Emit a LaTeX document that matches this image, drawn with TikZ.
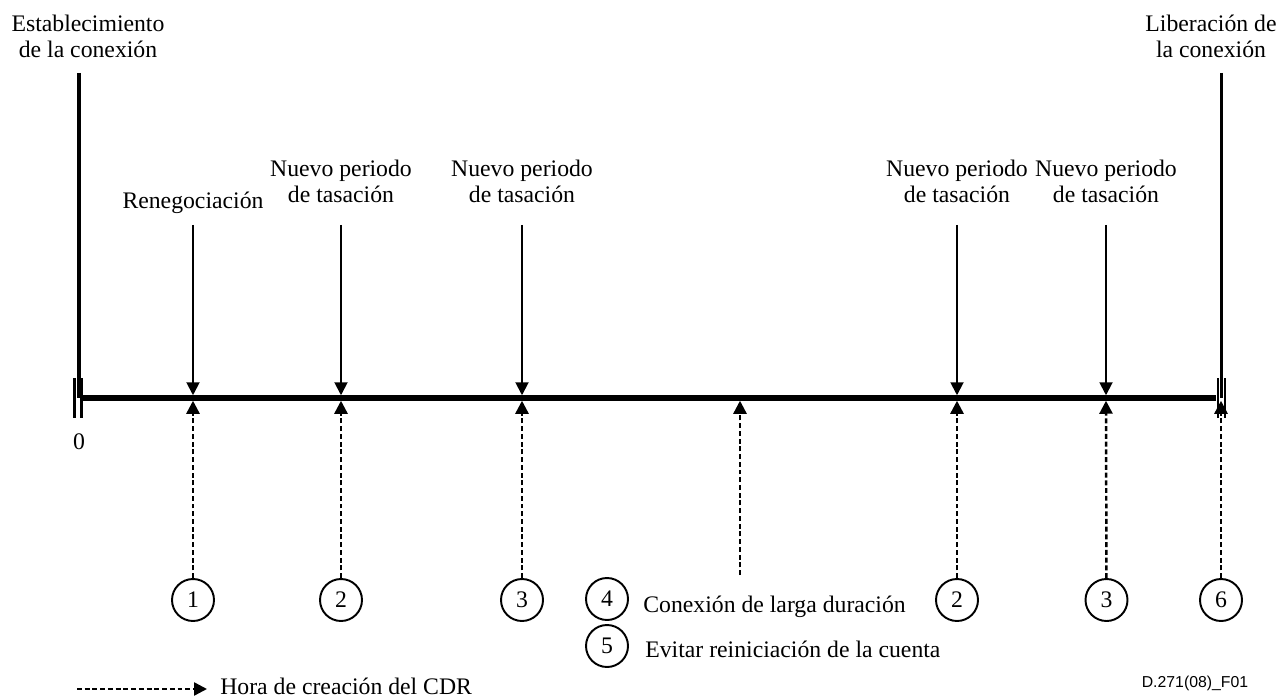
\documentclass[tikz,border=0pt]{standalone}
\usepackage{fontspec}
\setmainfont{Liberation Serif}
\setsansfont{Liberation Sans}
\usepackage{tkz-euclide}
\usetikzlibrary{arrows.meta}
\tikzset{every node/.style={font=\fontsize{13.5}{14.8}\selectfont, inner sep=0pt}}
\tikzset{axe/.style={line width=3.1pt},
  borne/.style={line width=1.8pt},
  barre/.style={line width=1.6pt},
  evt/.style={line width=1.1pt, -{Triangle[length=0.26cm,width=0.26cm]}},
  cdr/.style={line width=1.4pt, dash pattern=on 2.8pt off 1.6pt, -{Triangle[length=0.26cm,width=0.26cm]}},
  num/.style={circle, draw, line width=1.1pt, minimum size=0.84cm}}

\begin{document}
\begin{tikzpicture}
\useasboundingbox (0,0) rectangle (25.6,13.96);
\tkzDefPoints{1.62/6/T0, 24.32/6/T1, 1.58/12.5/A, 1.58/6/A0, 24.43/12.5/B, 24.43/6/B0}
\tkzDefPoints{1.49/6.4/S1, 1.49/5.6/S2, 1.63/6.4/S3, 1.63/5.6/S4}
\tkzDefPoints{24.36/6.4/F1, 24.36/5.6/F2, 24.5/6.4/F3, 24.5/5.6/F4}
\tkzDefPoints{3.86/9.46/D1, 6.82/9.46/D2, 10.44/9.46/D3, 19.14/9.46/D4, 22.12/9.46/D5}
\tkzDefPoints{3.86/6.055/E1, 6.82/6.055/E2, 10.44/6.055/E3, 19.14/6.055/E4, 22.12/6.055/E5}
\tkzDefPoints{3.86/5.945/P1, 6.82/5.945/P2, 10.44/5.945/P3, 14.8/5.945/P4, 19.14/5.945/P5, 22.12/5.945/P6, 24.42/5.945/P7}
\tkzDefPoints{14.8/2.46/Q, 1.54/0.18/L0, 4.14/0.18/L1}

\draw[axe] (T0) -- (T1);
\draw[borne] (A) -- (A0);
\draw[borne] (B) -- (B0);
\draw[barre] (S1) -- (S2);
\draw[barre] (S3) -- (S4);
\draw[barre] (F1) -- (F2);
\draw[barre] (F3) -- (F4);

\node[anchor=south, align=center] (ini) at (1.76,12.8) {Establecimiento\\de la conexión};
\node[anchor=south, align=center] (fin) at (24.22,12.8) {Liberación de\\la conexión};
\node (cero) at (1.58,5.12) {0};

\node[anchor=base] (l1) at (3.86,9.78) {Renegociación};
\node[anchor=south, align=center] (l2) at (6.82,9.9) {Nuevo periodo\\de tasación};
\node[anchor=south, align=center] (l3) at (10.44,9.9) {Nuevo periodo\\de tasación};
\node[anchor=south, align=center] (l4) at (19.14,9.9) {Nuevo periodo\\de tasación};
\node[anchor=south, align=center] (l5) at (22.12,9.9) {Nuevo periodo\\de tasación};

\draw[evt] (D1) -- (E1);
\draw[evt] (D2) -- (E2);
\draw[evt] (D3) -- (E3);
\draw[evt] (D4) -- (E4);
\draw[evt] (D5) -- (E5);

\node[num] (c1) at (3.86,1.96) {1};
\node[num] (c2) at (6.82,1.96) {2};
\node[num] (c3) at (10.44,1.96) {3};
\node[num] (c4) at (12.14,1.98) {4};
\node[num] (c5) at (12.14,1.04) {5};
\node[num] (c6) at (19.14,1.96) {2};
\node[num] (c7) at (22.13,1.96) {3};
\node[num] (c8) at (24.42,1.96) {6};
\node[anchor=base west] (t4) at (12.86,1.72) {Conexión de larga duración};
\node[anchor=base west] (t5) at (12.9,0.82) {Evitar reiniciación de la cuenta};

\draw[cdr] (c1) -- (P1);
\draw[cdr] (c2) -- (P2);
\draw[cdr] (c3) -- (P3);
\draw[cdr] (Q) -- (P4);
\draw[cdr] (c6) -- (P5);
\draw[cdr] (c7) -- (P6);
\draw[cdr] (c8) -- (P7);

\draw[cdr] (L0) -- (L1);
\node[anchor=base west] (ley) at (4.4,0.08) {Hora de creación del CDR};
\node[anchor=base, font=\sffamily\fontsize{9}{10}\selectfont] (ref) at (23.9,0.22) {D.271(08)\_F01};
\end{tikzpicture}
\end{document}
